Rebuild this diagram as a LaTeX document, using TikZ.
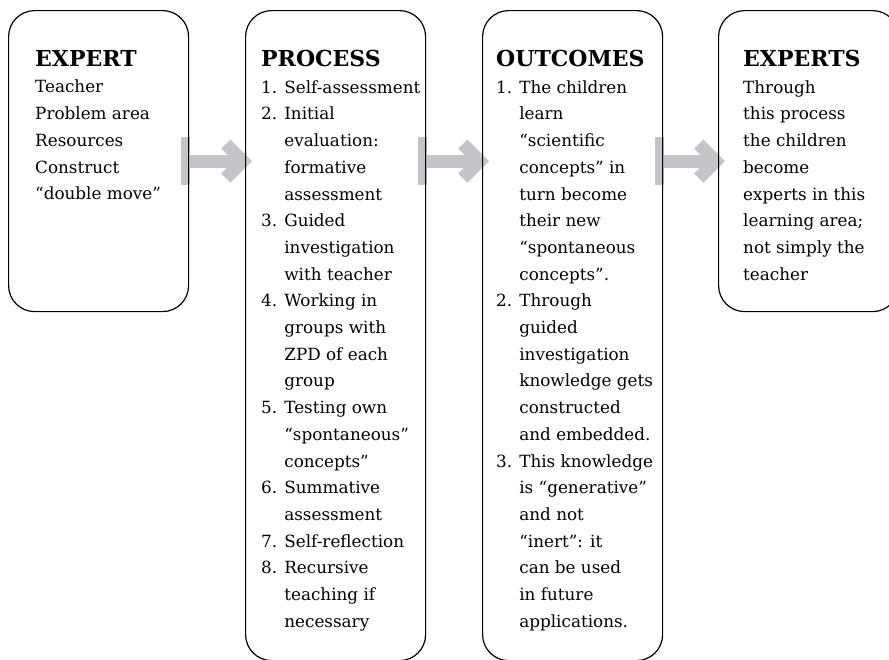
\documentclass[tikz,border=0pt]{standalone}
\usepackage{fontspec}
\setmainfont{DejaVu Serif}
\usetikzlibrary{arrows.meta,backgrounds}

\definecolor{flowgray}{RGB}{196,197,201}

\tikzset{
  stage/.style={draw, line width=1.2pt, rounded corners=26pt,
    minimum width=180pt, anchor=north west, inner sep=0pt},
  stagetext/.style={anchor=north west, align=left, inner sep=0pt,
    font=\fontsize{16.8}{26.7}\selectfont},
  flow/.style={draw=flowgray, line width=13pt,
    {Rectangle[length=9pt,width=48pt]}-{Straight Barb[length=17pt,width=34pt]},
    shorten <=-8pt, shorten >=-7pt}
}
\newcommand{\head}[1]{{\fontsize{22}{26.7}\selectfont\bfseries #1}}
\newcommand{\more}{\hphantom{1. }}

\begin{document}
\begin{tikzpicture}[x=1pt,y=1pt]
  \useasboundingbox (0,0) rectangle (889,-659);

  % the four stages
  \node[stage, minimum height=301pt] (expert) at (8,-10) {};
  \node[stage, minimum height=650pt] (process) at (245,-10) {};
  \node[stage, minimum height=650pt] (outcomes) at (482,-10) {};
  \node[stage, minimum height=301pt] (experts) at (718,-10) {};

  \node[stagetext] (expert-list) at ([shift={(27,-40)}]expert.north west)
    {\head{EXPERT}\\Teacher\\Problem area\\Resources\\Construct\\“double move”};

  \node[stagetext] (process-list) at ([shift={(16,-40)}]process.north west)
    {\head{PROCESS}\\
     1. Self-assessment\\
     2. Initial\\
     \more evaluation:\\
     \more formative\\
     \more assessment\\
     3. Guided\\
     \more investigation\\
     \more with teacher\\
     4. Working in\\
     \more groups with\\
     \more ZPD of each\\
     \more group\\
     5. Testing own\\
     \more “spontaneous”\\
     \more concepts”\\
     6. Summative\\
     \more assessment\\
     7. Self-reflection\\
     8. Recursive\\
     \more teaching if\\
     \more necessary};

  \node[stagetext] (outcomes-list) at ([shift={(14,-40)}]outcomes.north west)
    {\head{OUTCOMES}\\
     1. The children\\
     \more learn\\
     \more “scientific\\
     \more concepts” in\\
     \more turn become\\
     \more their new\\
     \more “spontaneous\\
     \more concepts”.\\
     2. Through\\
     \more guided\\
     \more investigation\\
     \more knowledge gets\\
     \more constructed\\
     \more and embedded.\\
     3. This knowledge\\
     \more is “generative”\\
     \more and not\\
     \more “inert”: it\\
     \more can be used\\
     \more in future\\
     \more applications.};

  \node[stagetext] (experts-list) at ([shift={(25,-40)}]experts.north west)
    {\head{EXPERTS}\\Through\\this process\\the children\\become\\experts in this\\learning area;\\not simply the\\teacher};

  % grey arrows behind the frames
  \begin{scope}[on background layer]
    \draw[flow] (expert.east) -- (expert.east -| process.west);
    \draw[flow] (expert.east -| process.east) -- (expert.east -| outcomes.west);
    \draw[flow] (expert.east -| outcomes.east) -- (expert.east -| experts.west);
  \end{scope}
\end{tikzpicture}
\end{document}
